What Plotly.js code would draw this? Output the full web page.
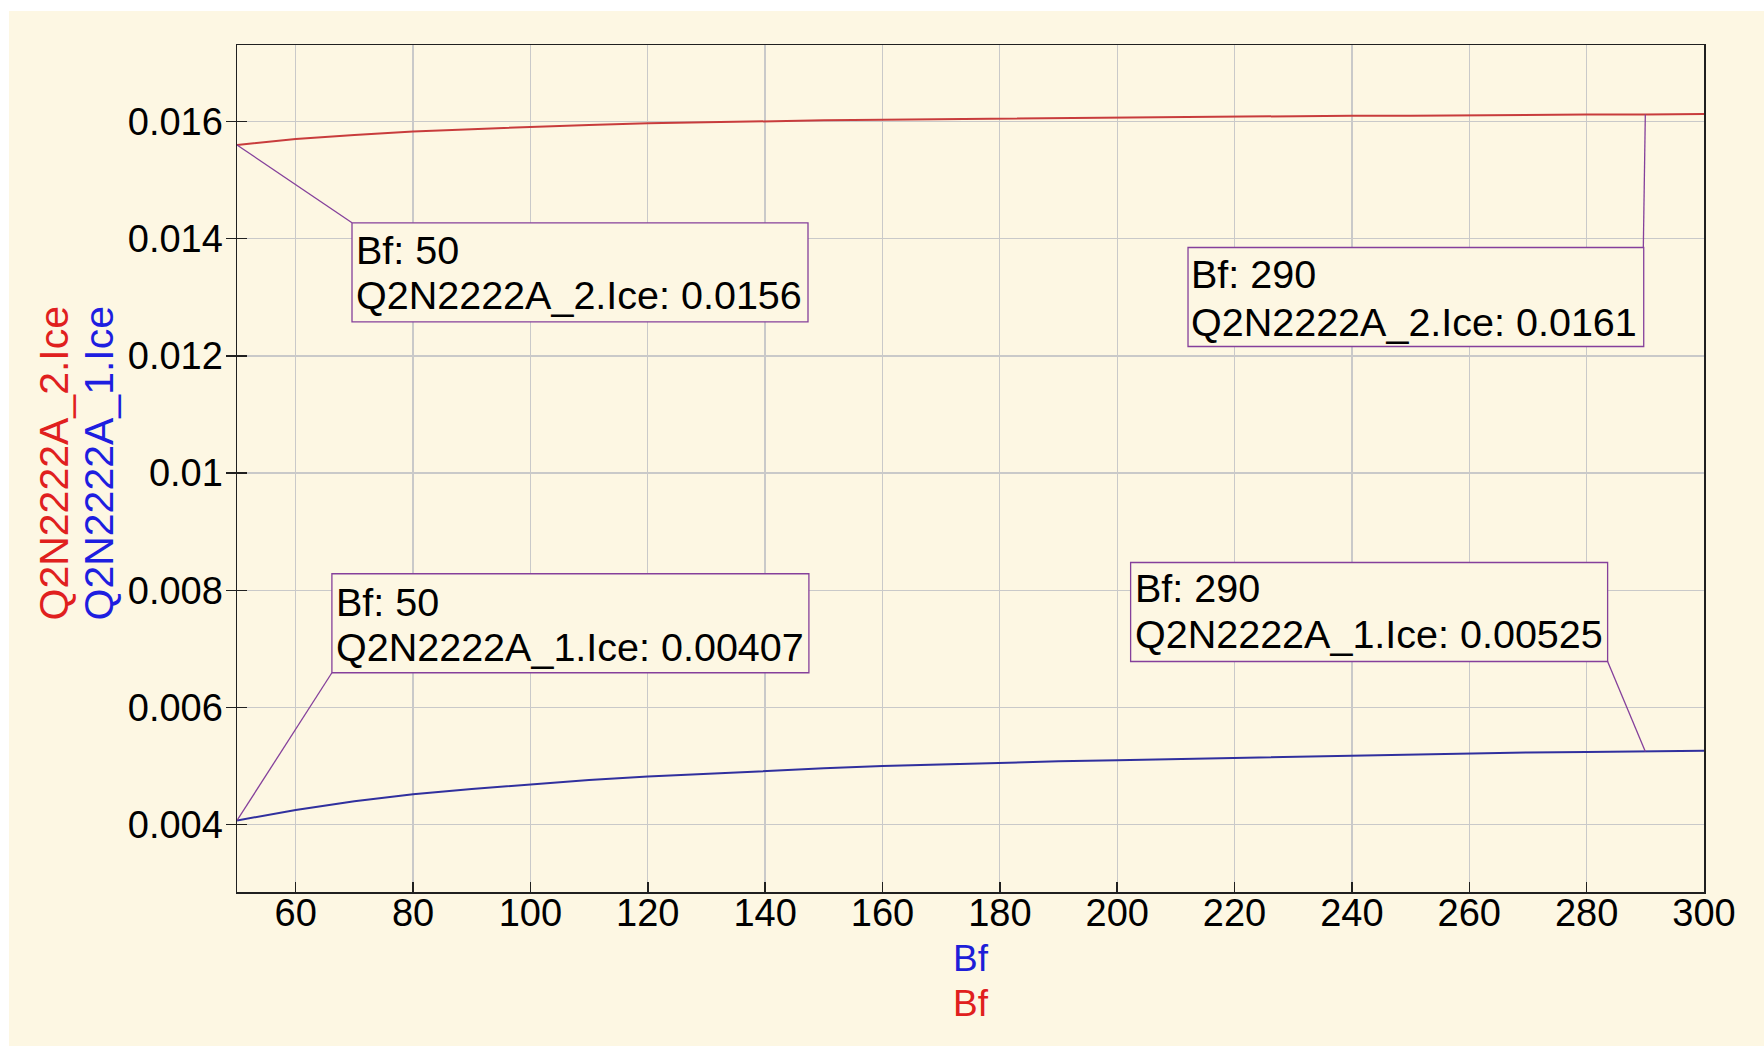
<!DOCTYPE html>
<html>
<head>
<meta charset="utf-8">
<script src="https://cdn.plot.ly/plotly-3.0.1.min.js"></script>
<style>
  html, body { margin: 0; padding: 0; background: #ffffff; width: 1764px; height: 1046px; overflow: hidden; }
  #plot { position: absolute; left: 9px; top: 11px; width: 1755px; height: 1035px; }
</style>
</head>
<body>
<div id="plot"></div>
<script>
// ---- data ----
const bf = [50, 60, 70, 80, 90, 100, 110, 120, 130, 140, 150, 160, 170, 180, 190, 200,
            210, 220, 230, 240, 250, 260, 270, 280, 290, 300];
// Q2N2222A_1.Ice (blue)
const ice1 = [0.00407, 0.00425, 0.00440, 0.00452, 0.00461, 0.00469, 0.00476, 0.00482, 0.00487,
              0.00492, 0.00496, 0.00500, 0.00503, 0.00505, 0.00508, 0.00510, 0.00512, 0.00514,
              0.00516, 0.00518, 0.00520, 0.00522, 0.00523, 0.00524, 0.00525, 0.00526];
// Q2N2222A_2.Ice (red)
const ice2 = [0.01560, 0.01570, 0.01577, 0.01583, 0.01587, 0.01591, 0.01594, 0.01597, 0.01599,
              0.01601, 0.01602, 0.01603, 0.01604, 0.01605, 0.01606, 0.01607, 0.01607, 0.01608,
              0.01609, 0.01610, 0.01610, 0.01611, 0.01611, 0.01612, 0.01612, 0.01613];
const xTickVals = [60, 80, 100, 120, 140, 160, 180, 200, 220, 240, 260, 280, 300];
const yTickVals = [0.004, 0.006, 0.008, 0.01, 0.012, 0.014, 0.016];
const yTickText = ['0.004', '0.006', '0.008', '0.01', '0.012', '0.014', '0.016'];
const name1 = 'Q2N2222A_1.Ice';
const name2 = 'Q2N2222A_2.Ice';
const xName = 'Bf';

// ---- styling ----
const cream = '#FDF7E3';
const purple = '#85409B';
const FONT = '"Liberation Sans", Arial, sans-serif';

// callouts: which series / which point, and the pixel layout of the box around it
const callouts = [
  {series: 2, idx: 0,  box: [115, 571, -77.85, -176.85], corner: [115, -77.85], tx: 116.6, ty: [-104.85, -149.85]},
  {series: 1, idx: 0,  box: [94.9, 571.9, 246.75, 147.75], corner: [94.9, 147.75], tx: 97.1, ty: [218.6, 173.6]},
  {series: 2, idx: 24, box: [-457.3, -1.6, -133, -232], corner: [-2, -133], tx: -456.2, ty: [-160, -207.25]},
  {series: 1, idx: 24, box: [-514.7, -37.7, 188.9, 89.9], corner: [-37.7, 89.9], tx: -512.7, ty: [163, 116.9]}
];

const traces = [
  {x: bf, y: ice1, type: 'scatter', mode: 'lines', name: name1,
   line: {color: '#30309E', width: 2}, xaxis: 'x', yaxis: 'y', hoverinfo: 'skip'},
  {x: bf, y: ice2, type: 'scatter', mode: 'lines', name: name2,
   line: {color: '#C83C3C', width: 2}, xaxis: 'x', yaxis: 'y2', hoverinfo: 'skip'}
];

const shapes = [];
const annotations = [];
callouts.forEach(c => {
  const ys = c.series === 1 ? ice1 : ice2;
  const nm = c.series === 1 ? name1 : name2;
  const xv = bf[c.idx], yv = ys[c.idx];
  shapes.push({type: 'rect', layer: 'above', xref: 'x', yref: 'y',
    xsizemode: 'pixel', ysizemode: 'pixel', xanchor: xv, yanchor: yv,
    x0: c.box[0], x1: c.box[1], y0: c.box[2], y1: c.box[3],
    fillcolor: cream, line: {color: purple, width: 1.3}});
  shapes.push({type: 'line', layer: 'above', xref: 'x', yref: 'y',
    xsizemode: 'pixel', ysizemode: 'pixel', xanchor: xv, yanchor: yv,
    x0: 0, y0: 0, x1: c.corner[0], y1: c.corner[1],
    line: {color: purple, width: 1.3}});
  const lines = [xName + ': ' + xv, nm + ': ' + Number(yv.toPrecision(3))];
  lines.forEach((t, k) => {
    annotations.push({text: t, xref: 'x', yref: 'y', x: xv, y: yv, showarrow: false,
      xanchor: 'left', yanchor: 'middle', xshift: c.tx, yshift: c.ty[k],
      font: {family: FONT, size: 39.5, color: '#000000'}});
  });
});

// axis titles
annotations.push({text: name2, xref: 'paper', yref: 'paper', x: 0, y: 0.5059, xshift: -183,
  textangle: -90, showarrow: false, xanchor: 'center', yanchor: 'middle',
  font: {family: FONT, size: 41, color: '#E0201E'}});
annotations.push({text: name1, xref: 'paper', yref: 'paper', x: 0, y: 0.5059, xshift: -138,
  textangle: -90, showarrow: false, xanchor: 'center', yanchor: 'middle',
  font: {family: FONT, size: 41, color: '#1E1EE0'}});
annotations.push({text: xName, xref: 'paper', yref: 'paper', x: 0.5, y: 0, yshift: -66,
  showarrow: false, xanchor: 'center', yanchor: 'middle',
  font: {family: FONT, size: 37, color: '#1E1ED8'}});
annotations.push({text: xName, xref: 'paper', yref: 'paper', x: 0.5, y: 0, yshift: -111,
  showarrow: false, xanchor: 'center', yanchor: 'middle',
  font: {family: FONT, size: 37, color: '#E0201E'}});

const yRange = [0.00285, 0.017306];
const layout = {
  width: 1755, height: 1035,
  margin: {l: 228, r: 60, t: 34, b: 154, pad: 0},
  paper_bgcolor: cream, plot_bgcolor: cream,
  showlegend: false,
  font: {family: FONT, size: 38, color: '#000000'},
  xaxis: {range: [50, 300], autorange: false, tickmode: 'array', tickvals: xTickVals,
    ticks: 'inside', ticklen: 10, tickwidth: 1.5, tickcolor: '#202020', ticklabelstandoff: -13,
    showline: true, linecolor: '#202020', linewidth: 1.5, mirror: true,
    showgrid: true, gridcolor: '#C9C9C9', gridwidth: 1.3, zeroline: false,
    tickfont: {family: FONT, size: 38, color: '#000000'}},
  yaxis: {range: yRange, autorange: false, tickmode: 'array', tickvals: yTickVals, ticktext: yTickText,
    ticks: 'outside', ticklen: 10, tickwidth: 1.5, tickcolor: '#202020', ticklabelstandoff: -5,
    showline: true, linecolor: '#202020', linewidth: 1.5, mirror: true,
    showgrid: true, gridcolor: '#C9C9C9', gridwidth: 1.3, zeroline: false,
    tickfont: {family: FONT, size: 38, color: '#000000'}},
  yaxis2: {overlaying: 'y', matches: 'y', anchor: 'x', side: 'left', tickmode: 'array', tickvals: yTickVals,
    ticks: 'inside', ticklen: 10, tickwidth: 1.5, tickcolor: '#202020',
    showticklabels: false, showgrid: false, showline: false, zeroline: false},
  shapes: shapes,
  annotations: annotations
};

Plotly.newPlot('plot', traces, layout, {staticPlot: true, displayModeBar: false});
</script>
</body>
</html>
